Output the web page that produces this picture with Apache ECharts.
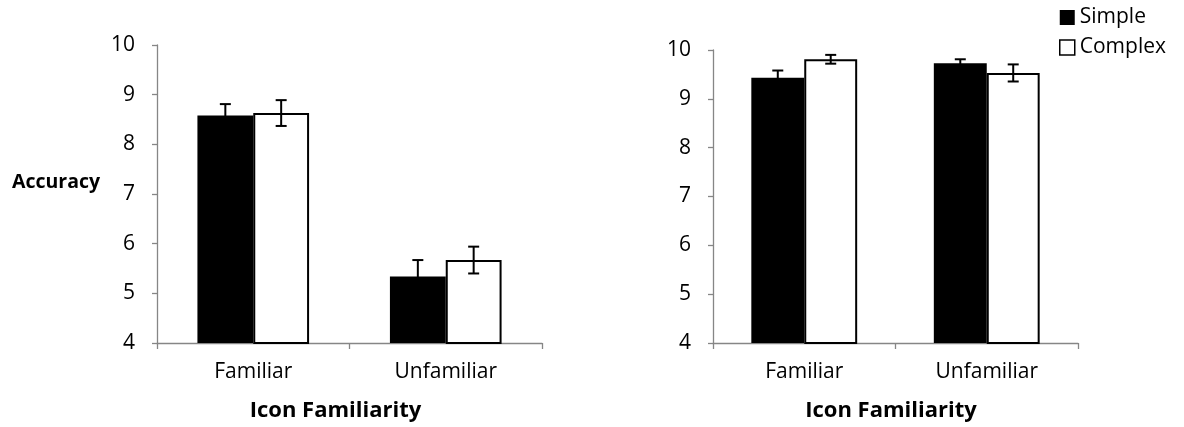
<!DOCTYPE html>
<html>
<head>
<meta charset="utf-8">
<script src="https://cdn.jsdelivr.net/npm/echarts@6/dist/echarts.min.js"></script>
<style>html,body{margin:0;padding:0;background:#fff}#c{width:1184px;height:427px}</style>
</head>
<body>
<div id="c"></div>
<script>
const categories = ['Familiar', 'Unfamiliar'];
const seriesNames = ['Simple', 'Complex'];
const yMin = 4, yMax = 10, yStep = 1;
// Left panel
const simpleLeft = [8.58, 5.34];
const simpleLeftErr = [0.23, 0.33];
const complexLeft = [8.63, 5.67];
const complexLeftErr = [0.26, 0.27];
// Right panel
const simpleRight = [9.43, 9.73];
const simpleRightErr = [0.15, 0.08];
const complexRight = [9.81, 9.53];
const complexRightErr = [0.09, 0.175];

const FONT = 'Open Sans';
const AXIS_GRAY = '#868686';
const GAP = 0.42;

const chart = echarts.init(document.getElementById('c'), null, {renderer: 'canvas'});

function xAxisFor(gi, namePadRight) {
  return {
    type: 'category', gridIndex: gi, data: categories,
    axisLine: {lineStyle: {color: AXIS_GRAY, width: 1.3}},
    axisTick: {show: true, length: 6, lineStyle: {color: AXIS_GRAY, width: 1.3}},
    axisLabel: {color: '#000', fontSize: 21, fontFamily: FONT, margin: 19},
    name: 'Icon Familiarity', nameLocation: 'middle', nameGap: 57,
    nameTextStyle: {color: '#000', fontSize: 22, fontWeight: 'bold', fontFamily: FONT,
                    padding: [0, namePadRight, 0, 0]}
  };
}
function yAxisFor(gi) {
  return {
    type: 'value', gridIndex: gi, min: yMin, max: yMax, interval: yStep,
    splitLine: {show: false},
    axisLine: {show: true, lineStyle: {color: AXIS_GRAY, width: 1.3}},
    axisTick: {show: true, length: 5, lineStyle: {color: AXIS_GRAY, width: 1.3}},
    axisLabel: {color: '#000', fontSize: 21, fontFamily: FONT, margin: 22}
  };
}

function errRender(params, api) {
  const cat = api.value(0), val = api.value(1), err = api.value(2), sign = api.value(3);
  const c = api.coord([cat, val]);
  const bw = api.size([1, 0])[0];
  const barW = bw * (1 - GAP) / 2;
  const x = c[0] + sign * barW / 2;
  const yt = api.coord([cat, val + err])[1];
  const yb = api.coord([cat, val - err])[1];
  const cap = 5.5;
  const st = {stroke: '#000', lineWidth: 2};
  return {type: 'group', children: [
    {type: 'line', shape: {x1: x, y1: yt, x2: x, y2: yb}, style: st},
    {type: 'line', shape: {x1: x - cap, y1: yt, x2: x + cap, y2: yt}, style: st},
    {type: 'line', shape: {x1: x - cap, y1: yb, x2: x + cap, y2: yb}, style: st}
  ]};
}
function errData(vals, errs, sign) {
  return categories.map((c, i) => [i, vals[i], errs[i], sign]);
}
function barsFor(gi, sVals, cVals) {
  return [
    {name: seriesNames[0], type: 'bar', xAxisIndex: gi, yAxisIndex: gi, data: sVals,
     barGap: '0%', barCategoryGap: (GAP * 100) + '%',
     itemStyle: {color: '#000', borderColor: '#000', borderWidth: 0}, silent: true},
    {name: seriesNames[1], type: 'bar', xAxisIndex: gi, yAxisIndex: gi, data: cVals,
     barGap: '0%', barCategoryGap: (GAP * 100) + '%',
     itemStyle: {color: '#fff', borderColor: '#000', borderWidth: 2}, silent: true}
  ];
}
function errFor(gi, vals, errs, sign) {
  return {type: 'custom', xAxisIndex: gi, yAxisIndex: gi, renderItem: errRender,
          data: errData(vals, errs, sign), z: 10, silent: true,
          encode: {x: 0, y: 1}};
}

chart.setOption({
  animation: false,
  backgroundColor: '#fff',
  textStyle: {fontFamily: FONT},
  title: {text: 'Accuracy', left: 12, top: 172, padding: 0,
          textStyle: {fontSize: 19.5, fontWeight: 'bold', color: '#000', fontFamily: FONT}},
  legend: {
    data: [
      {name: 'Simple', itemStyle: {color: '#000', borderColor: '#000', borderWidth: 0}},
      {name: 'Complex', itemStyle: {color: '#fff', borderColor: '#000', borderWidth: 1.5}}
    ],
    orient: 'vertical', left: 1059, top: 7, padding: 0,
    itemWidth: 15, itemHeight: 15, itemGap: 9,
    icon: 'rect',
    textStyle: {fontSize: 21, color: '#000', fontFamily: FONT}
  },
  grid: [
    {left: 157, top: 45, width: 385, height: 303},
    {left: 713, top: 50, width: 365, height: 297}
  ],
  xAxis: [xAxisFor(0, 28), xAxisFor(1, 9)],
  yAxis: [yAxisFor(0), yAxisFor(1)],
  series: [
    ...barsFor(0, simpleLeft, complexLeft),
    ...barsFor(1, simpleRight, complexRight),
    errFor(0, simpleLeft, simpleLeftErr, -1),
    errFor(0, complexLeft, complexLeftErr, 1),
    errFor(1, simpleRight, simpleRightErr, -1),
    errFor(1, complexRight, complexRightErr, 1)
  ]
});
</script>
</body>
</html>
